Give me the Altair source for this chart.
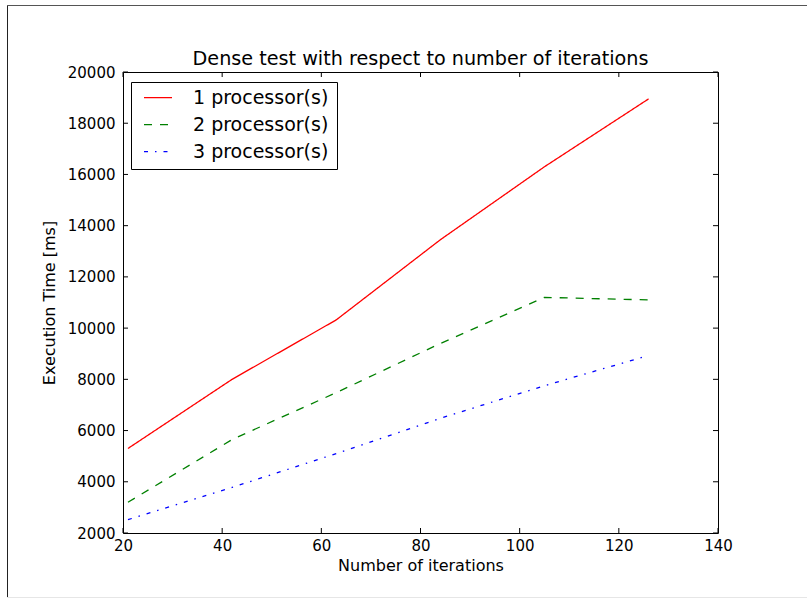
import altair as alt
import pandas as pd

# ---- data ----
iterations = [21, 42, 63, 84, 105, 126]
proc1 = [5300, 8000, 10320, 13450, 16300, 18950]
proc2 = [3200, 5650, 7480, 9400, 11200, 11100]
proc3 = [2520, 3780, 5100, 6480, 7750, 8930]
series_names = ["1 processor(s)", "2 processor(s)", "3 processor(s)"]
series_colors = ["#ff0000", "#008000", "#0000ff"]
series_dashes = [[1, 0], [8, 8], [4, 7, 1.5, 7]]
x_ticks = [20, 40, 60, 80, 100, 120, 140]
y_ticks = [2000, 4000, 6000, 8000, 10000, 12000, 14000, 16000, 18000, 20000]
chart_title = "Dense test with respect to number of iterations"

rows = []
for name, vals in zip(series_names, [proc1, proc2, proc3]):
    for it, v in zip(iterations, vals):
        rows.append({"iterations": it, "time": v, "series": name})
df = pd.DataFrame(rows)

W, H = 595, 461
FONT = "DejaVu Sans"

xscale = alt.Scale(domain=[20, 140], nice=False, zero=False)
yscale = alt.Scale(domain=[2000, 20000], nice=False, zero=False)

axis_style = dict(labelFont=FONT, labelFontSize=15, labelColor="black",
                  titleFont=FONT, titleFontSize=16, titleFontWeight="normal",
                  titleColor="black", ticks=False, tickSize=0, domain=False, grid=False,
                  labelFlush=False, labelOverlap=False, labelBound=False)

lines = alt.Chart(df).mark_line(strokeWidth=1.3, clip=True).encode(
    x=alt.X("iterations:Q", scale=xscale,
            axis=alt.Axis(values=x_ticks, format="d", title="Number of iterations",
                          labelPadding=5, titlePadding=4, **axis_style)),
    y=alt.Y("time:Q", scale=yscale,
            axis=alt.Axis(values=y_ticks, format="d", title="Execution Time [ms]",
                          labelPadding=8, titlePadding=10, **axis_style)),
    color=alt.Color("series:N", scale=alt.Scale(domain=series_names, range=series_colors), legend=None),
    strokeDash=alt.StrokeDash("series:N", scale=alt.Scale(domain=series_names, range=series_dashes), legend=None),
    detail="series:N",
)

xt = pd.DataFrame({"v": x_ticks})
yt = pd.DataFrame({"v": y_ticks})
TL = 5
tick_layers = [
    alt.Chart(xt).mark_rule(color="black", strokeWidth=1).encode(
        x=alt.X("v:Q", scale=xscale), y=alt.value(H - TL), y2=alt.value(H)),
    alt.Chart(xt).mark_rule(color="black", strokeWidth=1).encode(
        x=alt.X("v:Q", scale=xscale), y=alt.value(0), y2=alt.value(TL)),
    alt.Chart(yt).mark_rule(color="black", strokeWidth=1).encode(
        y=alt.Y("v:Q", scale=yscale), x=alt.value(0), x2=alt.value(TL)),
    alt.Chart(yt).mark_rule(color="black", strokeWidth=1).encode(
        y=alt.Y("v:Q", scale=yscale), x=alt.value(W - TL), x2=alt.value(W)),
]

# ---- title as text ----
title_layer = alt.Chart(pd.DataFrame({"t": [chart_title]})).mark_text(
    font=FONT, fontSize=19.2, align="center", baseline="alphabetic", color="black").encode(
    text="t:N", x=alt.value(W / 2), y=alt.value(-7))

# ---- legend (manual, matplotlib style) ----
one = pd.DataFrame({"k": [0]})
legend_layers = [
    alt.Chart(one).mark_rect(fill="white", stroke="black", strokeWidth=1).encode(
        x=alt.value(8.5), x2=alt.value(214.5), y=alt.value(10.5), y2=alt.value(97.5))
]
for i, (name, col, dash) in enumerate(zip(series_names, series_colors, series_dashes)):
    yy = 25.7 + 27 * i
    legend_layers.append(
        alt.Chart(one).mark_rule(color=col, strokeWidth=1.3, strokeDash=dash).encode(
            x=alt.value(21), x2=alt.value(49), y=alt.value(yy)))
    legend_layers.append(
        alt.Chart(pd.DataFrame({"name": [name]})).mark_text(
            font=FONT, fontSize=19, align="left", baseline="alphabetic", color="black").encode(
            text="name:N", x=alt.value(70), y=alt.value(yy + 6.6)))

# ---- screenshot frame ----
frame_layers = [
    alt.Chart(one).mark_rule(color="#222222", strokeWidth=1).encode(
        x=alt.value(-115.5), y=alt.value(-67), y2=alt.value(526)),
    alt.Chart(one).mark_rule(color="#555555", strokeWidth=1).encode(
        x=alt.value(-116), x2=alt.value(684), y=alt.value(-66.5)),
    alt.Chart(one).mark_rule(color="#e6e6e6", strokeWidth=1).encode(
        x=alt.value(-116), x2=alt.value(684), y=alt.value(525.5)),
]

chart = alt.layer(lines, *tick_layers, title_layer, *legend_layers, *frame_layers).properties(
    width=W, height=H,
    background="white",
    autosize=alt.AutoSizeParams(type="none"),
    padding={"left": 123, "top": 72, "right": 89, "bottom": 66},
).configure_view(stroke="black", strokeWidth=1)

chart.save("out.html", embed_options={"renderer": "svg", "actions": False})
